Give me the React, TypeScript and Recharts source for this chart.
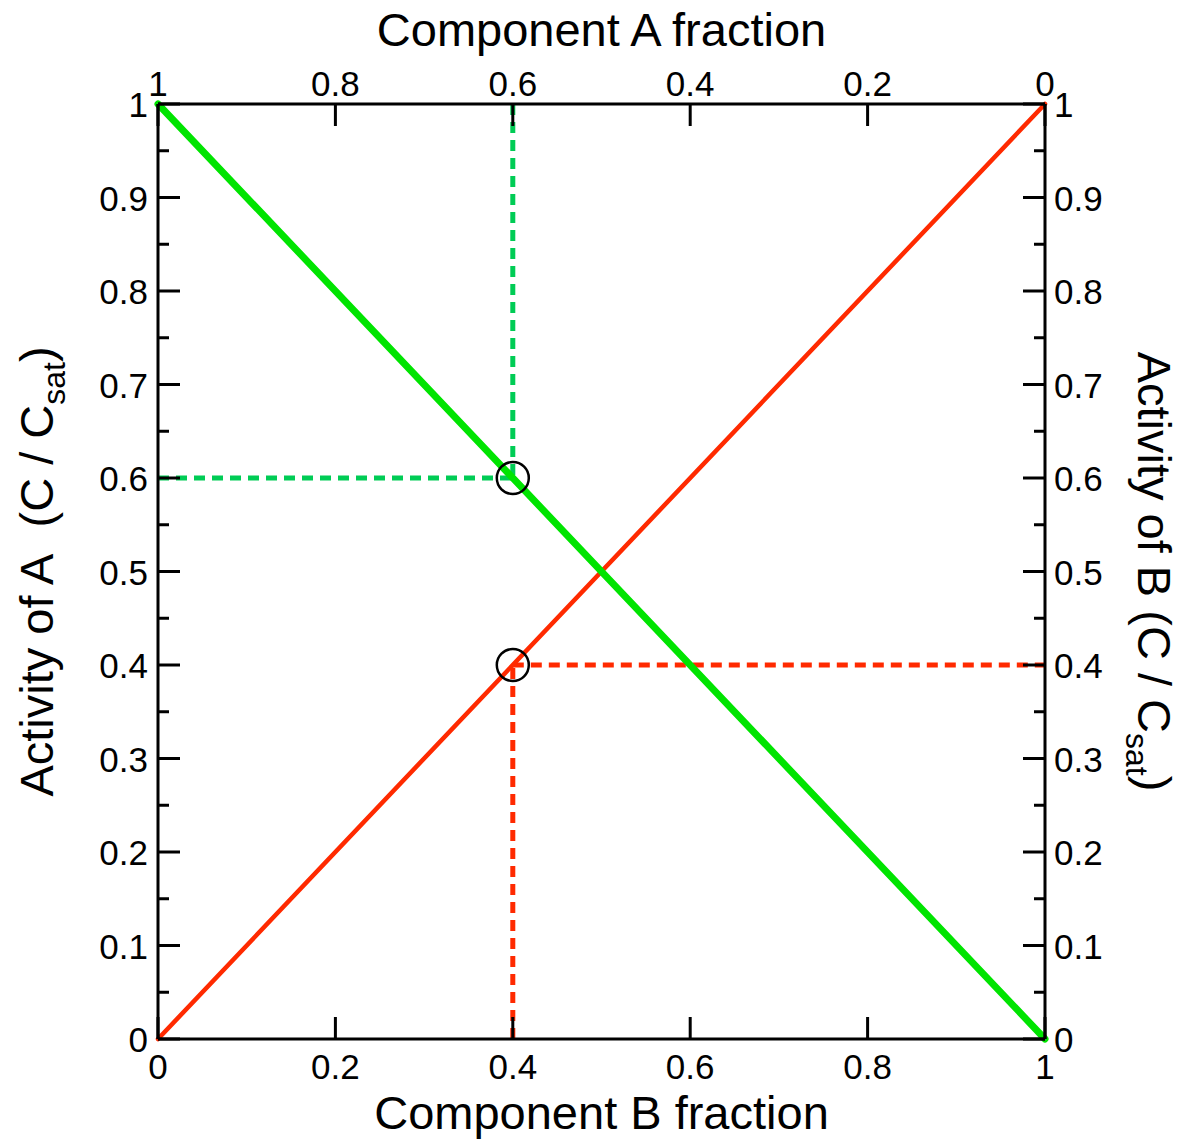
import { LineChart, Line, XAxis, YAxis, ReferenceDot } from 'recharts';

// Mixture composition at the two ends
const fractionA = [1, 0];
const fractionB = [0, 1];
// Activities (C / Csat) at those ends
const activityA = [1, 0];
const activityB = [0, 1];

// Read-off point on both curves
const markB = 0.4;
const markActA = 0.6;
const markActB = 0.4;

const xTicks = [0, 0.2, 0.4, 0.6, 0.8, 1];
const yTicks = [0, 0.05, 0.1, 0.15, 0.2, 0.25, 0.3, 0.35, 0.4, 0.45, 0.5, 0.55, 0.6, 0.65, 0.7, 0.75, 0.8, 0.85, 0.9, 0.95, 1];

// A is plotted against the top (A fraction) axis, B against the bottom one
const lineA = fractionA.map((x, i) => ({ x, y: activityA[i] }));
const lineB = fractionB.map((x, i) => ({ x, y: activityB[i] }));
const guideAV = [{ x: markB, y: 1 }, { x: markB, y: markActA }];
const guideAH = [{ x: 0, y: markActA }, { x: markB, y: markActA }];
const guideBV = [{ x: markB, y: 0 }, { x: markB, y: markActB }];
const guideBH = [{ x: markB, y: markActB }, { x: 1, y: markActB }];

const FONT = '"Liberation Sans", Arial, Helvetica, sans-serif';
const GREEN = '#00e400';
const GREEN_DASH = '#00cc55';
const RED = '#ff2a00';
const TICK_FONT = 35;
const TITLE_FONT = 47;

const fmt = (v: number) => (v === 0 || v === 1 ? String(v) : v.toFixed(1));
const isMajor = (v: number) => Math.abs(v * 10 - Math.round(v * 10)) < 1e-6;

function AxisTick({ x, y, payload, side }: any) {
  const v = payload.value as number;
  const major = isMajor(v);
  const len = major ? 22 : 11;
  let line;
  let text = null;
  if (side === 'bottom') {
    line = <line x1={x} y1={y} x2={x} y2={y - len} />;
    text = <text x={x} y={y + 40} textAnchor="middle">{fmt(v)}</text>;
  } else if (side === 'top') {
    line = <line x1={x} y1={y} x2={x} y2={y + len} />;
    text = <text x={x} y={y - 8} textAnchor="middle">{fmt(v)}</text>;
  } else if (side === 'left') {
    line = <line x1={x} y1={y} x2={x + len} y2={y} />;
    if (major) text = <text x={x - 10} y={y + 13} textAnchor="end">{fmt(v)}</text>;
  } else {
    line = <line x1={x} y1={y} x2={x - len} y2={y} />;
    if (major) text = <text x={x + 9} y={y + 13} textAnchor="start">{fmt(v)}</text>;
  }
  return (
    <g>
      <g stroke="#000" strokeWidth={3}>{line}</g>
      <g fill="#000" fontSize={TICK_FONT} fontFamily={FONT}>{text}</g>
    </g>
  );
}

const tick = (side: string) => (props: any) => <AxisTick {...props} side={side} />;

const BottomTitle = ({ viewBox }: any) => (
  <text x={viewBox.x + viewBox.width / 2} y={viewBox.y + 90} textAnchor="middle"
    fontSize={TITLE_FONT} fontFamily={FONT} fill="#000">Component B fraction</text>
);

const TopTitle = ({ viewBox }: any) => {
  const base = viewBox.y + viewBox.height;
  return (
    <text x={viewBox.x + viewBox.width / 2} y={base - 58} textAnchor="middle"
      fontSize={TITLE_FONT} fontFamily={FONT} fill="#000">Component A fraction</text>
  );
};

const LeftTitle = ({ viewBox }: any) => {
  const cx = viewBox.x + viewBox.width - 105;
  const cy = viewBox.y + viewBox.height / 2;
  return (
    <text x={cx} y={cy} transform={`rotate(-90 ${cx} ${cy})`} textAnchor="middle"
      fontSize={TITLE_FONT} fontFamily={FONT} fill="#000">
      <tspan>{'Activity of A\u00a0 (C / C'}</tspan>
      <tspan fontSize={32} dy={12}>sat</tspan>
      <tspan dy={-12}>)</tspan>
    </text>
  );
};

const RightTitle = ({ viewBox }: any) => {
  const cx = viewBox.x + 93;
  const cy = viewBox.y + viewBox.height / 2;
  return (
    <text x={cx} y={cy} transform={`rotate(90 ${cx} ${cy})`} textAnchor="middle"
      fontSize={TITLE_FONT} fontFamily={FONT} fill="#000">
      <tspan>Activity of B (C / C</tspan>
      <tspan fontSize={32} dy={12}>sat</tspan>
      <tspan dy={-12}>)</tspan>
    </text>
  );
};

const axisLine = { stroke: '#000', strokeWidth: 3 };
const dashed = { strokeWidth: 5, strokeDasharray: '11 7', dot: false, activeDot: false, isAnimationActive: false } as const;

export default function App() {
  return (
    <div style={{ position: 'absolute', left: 0, top: 0, width: 1190, height: 1139, background: '#fff' }}>
      <LineChart width={1190} height={1139} margin={{ top: 64, right: 65, bottom: 60, left: 78 }}>
        <XAxis xAxisId="b" dataKey="x" type="number" orientation="bottom" domain={[0, 1]} ticks={xTicks}
          interval={0} height={40} tickSize={0} tickMargin={0} tickLine={false} axisLine={axisLine}
          tick={tick('bottom')} label={{ content: (p: any) => <BottomTitle {...p} /> }} />
        <XAxis xAxisId="a" dataKey="x" type="number" orientation="top" domain={[0, 1]} reversed ticks={xTicks}
          interval={0} height={40} tickSize={0} tickMargin={0} tickLine={false} axisLine={axisLine}
          tick={tick('top')} label={{ content: (p: any) => <TopTitle {...p} /> }} />
        <YAxis yAxisId="l" type="number" orientation="left" domain={[0, 1]} ticks={yTicks}
          interval={0} width={80} tickSize={0} tickMargin={0} tickLine={false} axisLine={axisLine}
          tick={tick('left')} label={{ content: (p: any) => <LeftTitle {...p} /> }} />
        <YAxis yAxisId="r" type="number" orientation="right" domain={[0, 1]} ticks={yTicks}
          interval={0} width={80} tickSize={0} tickMargin={0} tickLine={false} axisLine={axisLine}
          tick={tick('right')} label={{ content: (p: any) => <RightTitle {...p} /> }} />

        <Line xAxisId="b" yAxisId="l" data={guideAV} dataKey="y" type="linear" stroke={GREEN_DASH} {...dashed} />
        <Line xAxisId="b" yAxisId="l" data={guideAH} dataKey="y" type="linear" stroke={GREEN_DASH} {...dashed} />
        <Line xAxisId="b" yAxisId="r" data={guideBV} dataKey="y" type="linear" stroke={RED} {...dashed} />
        <Line xAxisId="b" yAxisId="r" data={guideBH} dataKey="y" type="linear" stroke={RED} {...dashed} />

        <Line xAxisId="b" yAxisId="r" data={lineB} dataKey="y" type="linear" stroke={RED}
          strokeWidth={4.5} strokeLinecap="round" dot={false} activeDot={false} isAnimationActive={false} />
        <Line xAxisId="a" yAxisId="l" data={lineA} dataKey="y" type="linear" stroke={GREEN}
          strokeWidth={7} strokeLinecap="round" dot={false} activeDot={false} isAnimationActive={false} />

        <ReferenceDot xAxisId="b" yAxisId="l" x={markB} y={markActA} r={16} fill="none" stroke="#000" strokeWidth={2.5} />
        <ReferenceDot xAxisId="b" yAxisId="r" x={markB} y={markActB} r={16} fill="none" stroke="#000" strokeWidth={2.5} />
      </LineChart>
    </div>
  );
}
